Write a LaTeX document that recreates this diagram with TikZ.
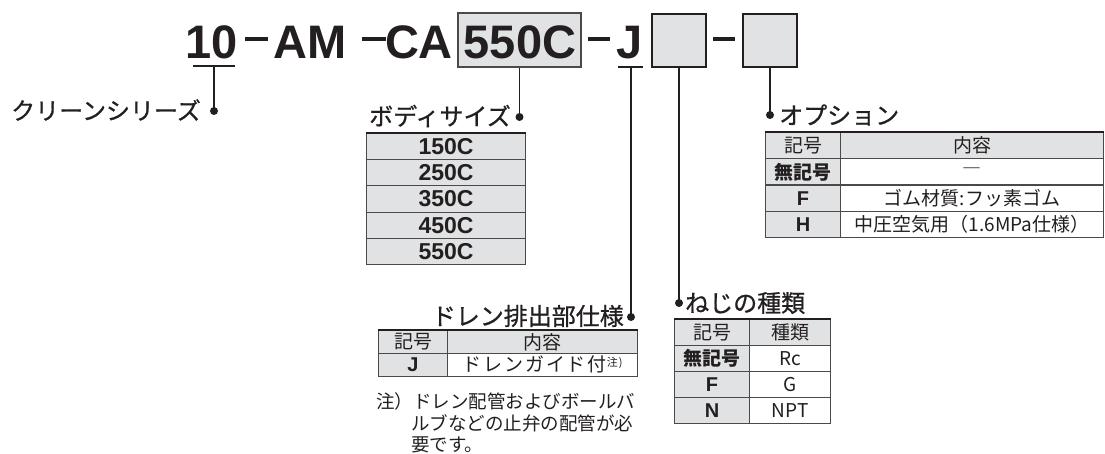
\documentclass[tikz,border=0pt]{standalone}
\usepackage{fontspec}
\setmainfont{Liberation Sans}
\newfontfamily\jp{Noto Sans CJK JP}
\newfontfamily\jpm[FakeBold=0.8]{Noto Sans CJK JP}
\definecolor{ink}{HTML}{231F20}
\definecolor{cgray}{HTML}{E1E2E3}
\definecolor{rule}{HTML}{4A4A4A}
\begin{document}
\begin{tikzpicture}[x=1pt,y=-1pt,
  ttl/.style={font=\fontsize{47}{50}\selectfont\bfseries, text=ink, inner sep=0, anchor=base},
  dashbar/.style={line width=4pt, draw=ink},
  ulbar/.style={line width=2.6pt, draw=ink},
  conn/.style={line width=1.8pt, draw=ink},
  lab/.style={font=\jpm\fontsize{24}{26}\selectfont, text=ink, inner sep=0},
  cell/.style={draw=rule, line width=1.1pt, inner sep=0, anchor=north west, text=ink},
  gcell/.style={cell, fill=cgray},
  wcell/.style={cell, fill=white},
  tj/.style={font=\jp\fontsize{19}{21}\selectfont},
  tjb/.style={font=\jp\bfseries\fontsize{19}{21}\selectfont},
  tlb/.style={font=\bfseries\fontsize{20}{22}\selectfont},
  toprule/.style={line width=2.6pt, draw=ink},
  notetxt/.style={font=\jp\fontsize{18.5}{20}\selectfont, text=ink, inner sep=0, anchor=west},
  bigbox/.style={fill=cgray, inner sep=0},
]
\useasboundingbox (0,0) rectangle (1105,454);

% ---------- title ----------
\node[bigbox, draw=rule, line width=2pt, minimum width=123, minimum height=54] (b550) at (519.5,40) {};
\node[bigbox, draw=ink, line width=2.6pt, minimum width=54, minimum height=53] (bx2) at (679,40.5) {};
\node[bigbox, draw=ink, line width=2.6pt, minimum width=54, minimum height=53] (bx3) at (770,40.5) {};
\node[ttl] (t10) at (212,59) {10};
\node[ttl] (tAM) at (310,59) {AM};
\node[ttl] (tCA) at (419,59) {CA};
\node[ttl] (t550) at (520,59) {550C};
\node[ttl] (tJ) at (630,59) {J};
\draw[dashbar] (245,39.5) -- (268,39.5);
\draw[dashbar] (362,39.5) -- (386,39.5);
\draw[dashbar] (588,39.5) -- (610,39.5);
\draw[dashbar] (713,39.5) -- (735,39.5);
\coordinate (u10) at (214,66);
\coordinate (uJ) at (631,67);
\draw[ulbar] (193,66) -- (235,66);
\draw[ulbar] (618,67) -- (643,67);

% ---------- connectors ----------
\coordinate (dclean) at (214,111);
\coordinate (dbody) at (519.5,117);
\coordinate (ddrain) at (631,317);
\coordinate (dscrew) at (679,303);
\coordinate (dopt) at (770,115);
\draw[conn] (u10) -- (dclean);
\draw[conn] (b550.south) -- (dbody);
\draw[conn] (uJ) -- (ddrain);
\draw[conn] (bx2.south) -- (dscrew);
\draw[conn] (bx3.south) -- (dopt);
\foreach \d in {dclean,dbody,ddrain,dscrew,dopt} \fill[ink] (\d) circle (4);

% ---------- labels ----------
\node[lab, anchor=east] (lclean) at (201,110) {クリーンシリーズ};
\node[lab, anchor=east] (lbody) at (511,116) {ボディサイズ};
\node[lab, anchor=west] (lopt) at (779,115) {オプション};
\node[lab, anchor=east] (ldrain) at (624,316) {ドレン排出部仕様};
\node[lab, anchor=west] (lscrew) at (685,303) {ねじの種類};

% ---------- body size table ----------
\foreach \t [count=\i from 0] in {150C,250C,350C,450C,550C}
  \node[gcell, minimum width=159, minimum height=26.2, font=\bfseries\fontsize{23}{25}\selectfont] (bs\i) at (366,{133+26.2*\i}) {\t};
\draw[toprule] (bs0.north west) -- (bs0.north east);

% ---------- option table ----------
\node[gcell, minimum width=75, minimum height=26.25, tj] (o00) at (765,132) {記号};
\node[gcell, minimum width=263, minimum height=26.25, tj] (o01) at (840,132) {内容};
\node[gcell, minimum width=75, minimum height=26.25, tjb] (o10) at (765,158.25) {無記号};
\node[wcell, minimum width=263, minimum height=26.25, tj] (o11) at (840,158.25) {―};
\node[gcell, minimum width=75, minimum height=26.25, tlb] (o20) at (765,184.5) {F};
\node[wcell, minimum width=263, minimum height=26.25, tj] (o21) at (840,184.5) {ゴム材質:フッ素ゴム};
\node[gcell, minimum width=75, minimum height=26.25, tlb] (o30) at (765,210.75) {H};
\node[wcell, minimum width=263, minimum height=26.25, tj] (o31) at (840,210.75) {中圧空気用（1.6MPa仕様）};
\draw[toprule] (o00.north west) -- (o01.north east);

% ---------- drain table ----------
\node[gcell, minimum width=69, minimum height=22.75, tj] (d00) at (378,330) {記号};
\node[gcell, minimum width=190, minimum height=22.75, tj] (d01) at (447,330) {内容};
\node[gcell, minimum width=69, minimum height=22.75, tlb] (d10) at (378,352.75) {J};
\node[wcell, minimum width=190, minimum height=22.75, tj] (d11) at (447,352.75) {\addfontfeatures{LetterSpace=10}ドレンガイド付\raisebox{5pt}{\fontsize{11}{12}\selectfont 注)}};
\draw[toprule] (d00.north west) -- (d01.north east);
\node[notetxt] (n1) at (376,401) {注）ドレン配管およびボールバ};
\node[notetxt] (n2) at (411,423) {ルブなどの止弁の配管が必};
\node[notetxt] (n3) at (411,444.5) {要です。};

% ---------- screw table ----------
\node[gcell, minimum width=75, minimum height=26, tj] (s00) at (674,319) {記号};
\node[gcell, minimum width=81, minimum height=26, tj] (s01) at (749,319) {種類};
\node[gcell, minimum width=75, minimum height=26, tjb] (s10) at (674,345) {無記号};
\node[wcell, minimum width=81, minimum height=26, tj] (s11) at (749,345) {Rc};
\node[gcell, minimum width=75, minimum height=26, tlb] (s20) at (674,371) {F};
\node[wcell, minimum width=81, minimum height=26, tj] (s21) at (749,371) {G};
\node[gcell, minimum width=75, minimum height=26, tlb] (s30) at (674,397) {N};
\node[wcell, minimum width=81, minimum height=26, tj] (s31) at (749,397) {NPT};
\draw[toprule] (s00.north west) -- (s01.north east);
\end{tikzpicture}
\end{document}
